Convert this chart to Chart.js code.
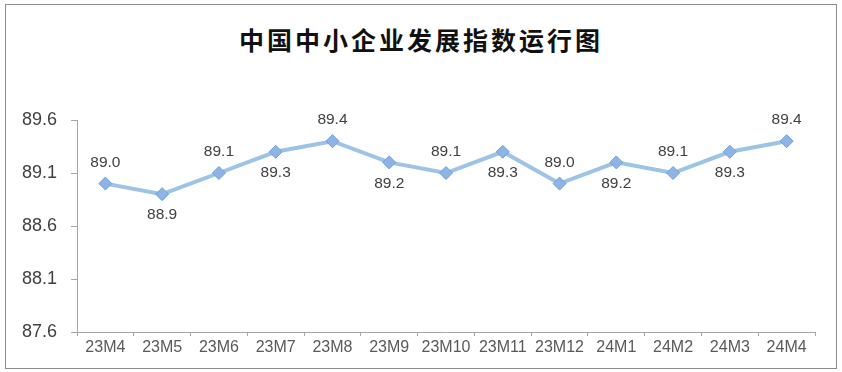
<!DOCTYPE html>
<html>
<head>
<meta charset="utf-8">
<script src="https://cdn.jsdelivr.net/npm/chart.js@4/dist/chart.umd.min.js"></script>
<style>
  body { margin: 0; background: #fff; }
  #frame { position: absolute; left: 5px; top: 4px; width: 832px; height: 365px; border: 1px solid #8c8c8c; box-sizing: border-box; }
  #title { position: absolute; left: 0; width: 842px; top: 21px; text-align: center; font: bold 25px "Noto Sans CJK SC", sans-serif; letter-spacing: 3px; color: #111; }
  #wrap { position: absolute; left: 0; top: 0; width: 842px; height: 372px; }
</style>
</head>
<body>
<div id="frame"></div>
<div id="title">中国中小企业发展指数运行图</div>
<div id="wrap"><canvas id="indexChart"></canvas></div>
<script>
var months = ["23M4", "23M5", "23M6", "23M7", "23M8", "23M9", "23M10", "23M11", "23M12", "24M1", "24M2", "24M3", "24M4"];
var indexValues = [89.0, 88.9, 89.1, 89.3, 89.4, 89.2, 89.1, 89.3, 89.0, 89.2, 89.1, 89.3, 89.4];
var yTicks = [87.6, 88.1, 88.6, 89.1, 89.6];

// value labels, alternating above / below the points
var valueLabels = {
    id: 'valueLabels',
    afterDatasetsDraw: function (chart) {
        var ctx = chart.ctx;
        var meta = chart.getDatasetMeta(0);
        ctx.save();
        ctx.font = '15.5px "Liberation Sans", Arial, sans-serif';
        ctx.fillStyle = '#404040';
        ctx.textAlign = 'center';
        ctx.textBaseline = 'middle';
        meta.data.forEach(function (pt, i) {
            var dy = (i % 2 === 0) ? -21 : 21;
            ctx.fillText(indexValues[i].toFixed(1), pt.x, pt.y + dy);
        });
        ctx.restore();
    }
};

var ctx = document.getElementById('indexChart').getContext('2d');
var indexChart = new Chart(ctx, {
    type: 'line',
    data: {
        labels: months,
        datasets: [{
            data: indexValues,
            borderColor: '#9dc3e6',
            borderWidth: 4,
            pointStyle: 'rectRot',
            pointRadius: 6.5,
            pointBackgroundColor: '#8db4e2',
            pointBorderColor: '#6d9fdc',
            pointBorderWidth: 1,
            tension: 0,
            fill: false
        }]
    },
    options: {
        responsive: true,
        maintainAspectRatio: false,
        animation: false,
        layout: { padding: { left: 5, right: 27, top: 120, bottom: 0 } },
        plugins: {
            legend: { display: false },
            tooltip: { enabled: false }
        },
        scales: {
            x: {
                offset: true,
                grid: { offset: true, drawOnChartArea: false, drawTicks: true, tickLength: 4, color: '#a6a6a6' },
                border: { color: '#a6a6a6', width: 1 },
                ticks: { color: '#595959', font: { size: 16, family: '"Liberation Sans", Arial, sans-serif' }, padding: 2, maxRotation: 0, autoSkip: false },
                afterFit: function (s) { s.height = 40; }
            },
            y: {
                min: yTicks[0],
                max: yTicks[yTicks.length - 1],
                afterBuildTicks: function (s) { s.ticks = yTicks.map(function (v) { return { value: v }; }); },
                grid: { drawOnChartArea: false, drawTicks: true, tickLength: 6, color: '#a6a6a6' },
                border: { color: '#a6a6a6', width: 1 },
                ticks: {
                    color: '#404040',
                    font: { size: 18, family: '"Liberation Sans", Arial, sans-serif' },
                    padding: 14,
                    callback: function (v) { return Number(v).toFixed(1); }
                },
                afterFit: function (s) { s.width = 72; }
            }
        }
    },
    plugins: [valueLabels]
});
</script>
</body>
</html>
